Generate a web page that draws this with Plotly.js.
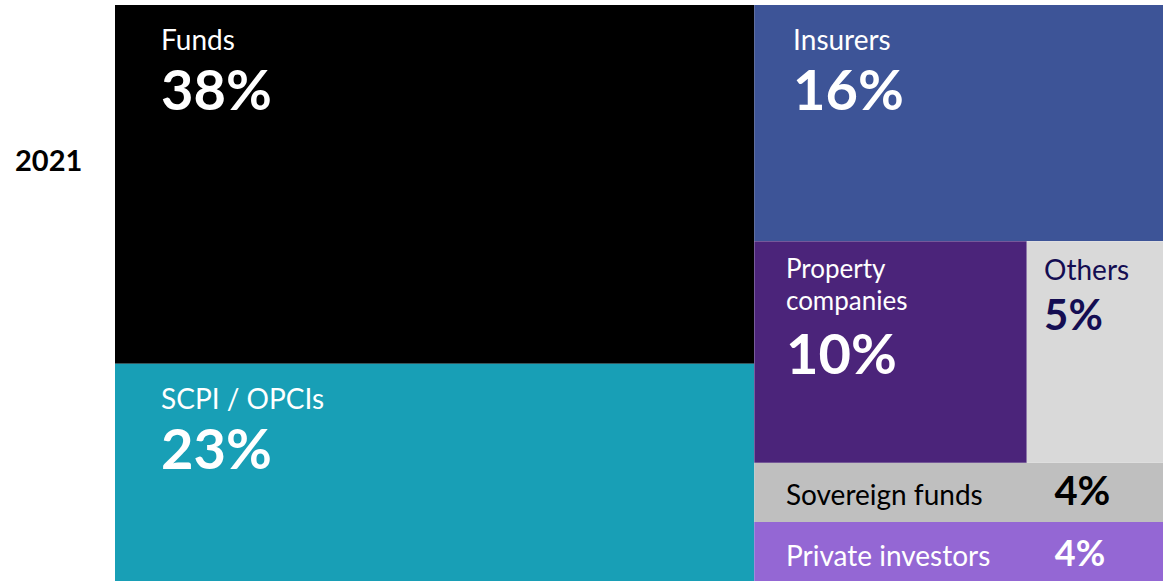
<!DOCTYPE html>
<html><head><meta charset="utf-8">
<script src="https://cdn.plot.ly/plotly-3.0.1.min.js"></script>
<style>html,body{margin:0;padding:0;background:#fff}</style>
</head><body><div id="chart" style="width:1163px;height:581px"></div>
<script>
// ---- data ----
const yearLabel = '2021';
const categories = ['Funds', 'SCPI / OPCIs', 'Insurers', 'Property companies', 'Others', 'Sovereign funds', 'Private investors'];
const shares = [38, 23, 16, 10, 5, 4, 4];
const categoryIds = ['funds', 'scpi', 'insurers', 'property', 'others', 'sovereign', 'private'];
const categoryParents = ['left', 'left', 'right', 'mid', 'mid', 'right', 'right'];
const groupIds = ['all', 'left', 'right', 'mid'];
const groupParents = ['', 'all', 'all', 'right'];

// ---- styles ----
const tileColors = {funds:'#000000', scpi:'#189fb6', insurers:'#3d5497', property:'#4b247a', others:'#d9d9d9', sovereign:'#bfbfbf', private:'#9467d4'};
const textColors = {others:'#140d52', sovereign:'#000000'};
const nb = n => '\u00a0'.repeat(n);
const ind = n => `<span style="font-size:28px">${nb(n)}</span>`;
const spacer = s => `<span style="font-size:${s}px">\u00a0</span>`;
const lbl = (t, s) => `<span style="font-size:${s || 28}px">${t}</span>`;
const big = (t, s) => `<b><span style="font-size:${s}px">${t}</span></b>`;

function tileText(id, name, v) {
  const p = v + '%';
  switch (id) {
    case 'funds':
    case 'scpi':
      return `${spacer(12)}<br>${ind(6)}${lbl(name)}<br><br>${ind(6)}${big(p, 56)}`;
    case 'insurers':
      return `${spacer(12)}<br>${ind(5)}${lbl(name)}<br><br>${ind(5)}${big(p, 56)}`;
    case 'property': {
      const w = name.split(' ');
      return `${spacer(2)}<br>${ind(4)}${lbl(w[0], 26)}<br>${ind(4)}${lbl(w[1], 26)}<br><br>${ind(4)}${big(p, 56)}`;
    }
    case 'others':
      return `${spacer(11)}<br>${ind(2)}${lbl(name)}<br><br>${ind(2)}${big(p, 42)}`;
    case 'sovereign':
      return `${ind(4)}${lbl(name + nb(10))}${big(p, 40)}`;
    case 'private':
      return `${spacer(11)}<br>${ind(4)}${lbl(name + nb(9))}${big(p, 36)}`;
  }
  return '';
}
const baseSize = {others: 19.2, property: 24.5};

// build tree (insurers must precede the mid group)
const ids = [], parents = [], labels = [], values = [], colors = [], texts = [], tcolors = [], tsizes = [];
function addGroup(k) {
  ids.push(groupIds[k]); parents.push(groupParents[k]); labels.push(''); values.push(0);
  colors.push('#ffffff'); texts.push(''); tcolors.push('#ffffff'); tsizes.push(23);
}
function addLeaf(i) {
  const id = categoryIds[i];
  ids.push(id); parents.push(categoryParents[i]); labels.push(categories[i]); values.push(shares[i]);
  colors.push(tileColors[id]); texts.push(tileText(id, categories[i], shares[i]));
  tcolors.push(textColors[id] || '#ffffff');
  tsizes.push(baseSize[id] || 23);
}
addGroup(0); addGroup(1); addGroup(2);
addLeaf(0); addLeaf(1); addLeaf(2);
addGroup(3);
addLeaf(3); addLeaf(4); addLeaf(5); addLeaf(6);

const trace = {
  type: 'treemap',
  ids: ids, parents: parents, labels: labels, values: values,
  branchvalues: 'remainder',
  sort: false,
  tiling: {packing: 'slice-dice', pad: 0},
  marker: {colors: colors, line: {width: 0}, pad: {t: 0, l: 0, r: 0, b: 0}},
  leaf: {opacity: 1},
  pathbar: {visible: false},
  text: texts,
  texttemplate: '%{text}',
  textposition: 'top left',
  textfont: {family: 'Lato', size: tsizes, color: tcolors},
  hoverinfo: 'label+value',
  root: {color: '#ffffff'}
};

const layout = {
  width: 1163, height: 581,
  margin: {l: 115, r: 0, t: 5, b: 0},
  paper_bgcolor: '#ffffff',
  showlegend: false,
  annotations: [{
    text: yearLabel, xref: 'paper', yref: 'paper', x: -0.063, y: 0.731,
    xanchor: 'center', yanchor: 'middle', showarrow: false,
    font: {family: 'Lato', size: 29, weight: 700, color: '#000000'}
  }]
};

Plotly.newPlot('chart', [trace], layout, {displayModeBar: false, responsive: false});
</script>
</body></html>
